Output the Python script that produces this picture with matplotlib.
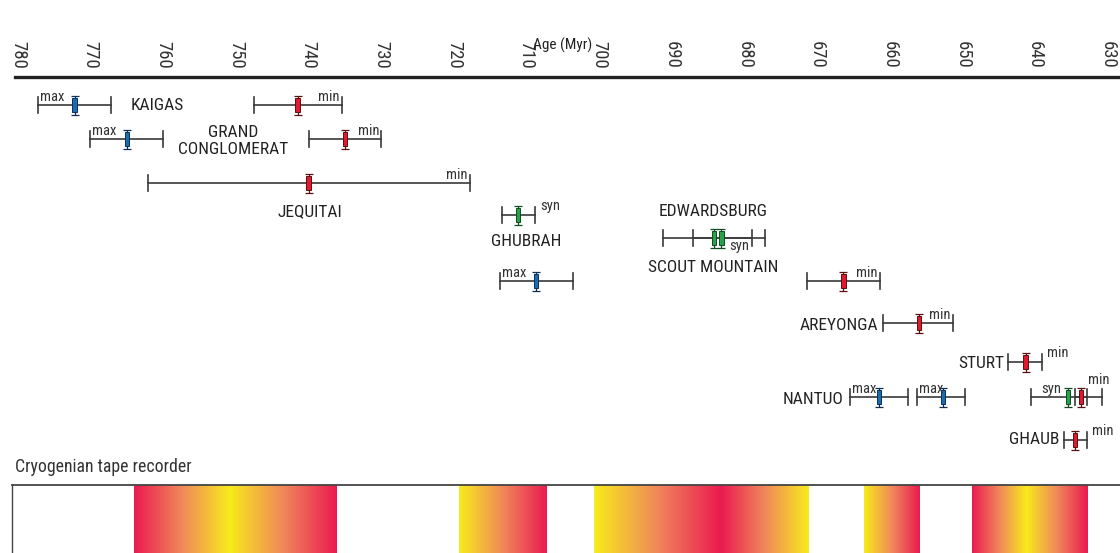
import numpy as np
import matplotlib
matplotlib.use("Agg")
import matplotlib.pyplot as plt
from matplotlib.patches import Rectangle
from matplotlib.colors import LinearSegmentedColormap

plt.rcParams["font.family"] = ["Roboto Condensed", "IBM Plex Sans Condensed",
                               "Liberation Sans Narrow", "DejaVu Sans"]

# age constraints (Myr): row, oldest, youngest, best estimate, type
row_y = [105, 105, 139, 139, 183, 215, 281, 238, 238, 281, 323, 362, 397, 397, 397, 397, 440]
age_old = [777.2, 747.5, 770.1, 739.9, 762.1, 713.4, 713.6, 691.2, 687.1, 671.4,
           660.9, 643.7, 665.5, 656.2, 640.6, 634.5, 636.0]
age_young = [767.2, 735.4, 760.0, 730.0, 717.8, 708.8, 703.6, 677.2, 679.0, 661.4,
             651.3, 639.0, 657.5, 649.6, 630.8, 632.9, 632.8]
age_best = [772.2, 741.5, 765.0, 735.0, 740.0, 711.2, 708.7, 684.2, 683.2, 666.4,
            656.0, 641.3, 661.5, 652.7, 635.5, 633.7, 634.5]
kind = ["max", "min", "max", "min", "min", "syn", "max", "syn", "syn", "min",
        "min", "min", "max", "max", "syn", "min", "min"]
# where the small tag goes
tag_pos = ["in", "in", "in", "in", "in", "sup", "in", "none", "below", "in",
           "in", "sup", "in", "in", "before", "high", "sup"]

# formation names: text, age, row, alignment
names = ["KAIGAS", "GRAND\nCONGLOMERAT", "JEQUITAI", "GHUBRAH", "EDWARDSBURG",
         "SCOUT MOUNTAIN", "AREYONGA", "STURT", "NANTUO", "GHAUB"]
name_age = [764.5, 750.4, 739.8, 710.1, 684.3, 684.3, 661.6, 644.2, 666.4, 636.6]
name_row = [105, 141, 212, 242, 212, 268, 325, 363, 400, 440]
name_ha = ["left", "center", "center", "center", "center", "center", "right", "right",
           "right", "right"]

# tape recorder bands: ages and colour value (0 = red, 1 = yellow)
tape_ages = [[764.1, 751.0, 736.2], [719.3, 707.2], [700.7, 683.3, 671.3],
             [663.6, 656.0], [648.7, 641.2, 632.7]]
tape_vals = [[0, 1, 0], [1, 0], [1, 0, 1], [1, 0], [0, 1, 0]]

ticks = np.arange(780, 629, -10)

colors = {"max": "#1b6db3", "min": "#e3172e", "syn": "#27a24a"}
edge = {"max": "#0d2f55", "min": "#5a1010", "syn": "#0f4a20"}
line_c = "#3a3a3a"

W, H = 1120, 553
fig = plt.figure(figsize=(W / 100, H / 100), dpi=100)

px = 7.265  # px per Myr
x0 = 18.0   # px position of 780
ax = fig.add_axes([15 / W, 1 - 455 / H, 1 - 15 / W, (455 - 77) / H])
ax.set_xlim(780 - (15 - x0) / px, 780 - (W - x0) / px)
ax.set_ylim(455, 77)
for s in ["left", "right", "bottom"]:
    ax.spines[s].set_visible(False)
ax.spines["top"].set_linewidth(2.4)
ax.spines["top"].set_color("#222222")
ax.xaxis.tick_top()
ax.set_xticks(ticks)
ax.set_xticklabels([str(t) for t in ticks], rotation=270, fontsize=13.5, color="#333333")
ax.tick_params(axis="x", length=0, pad=6)
ax.set_yticks([])

fig.text(563 / W, 1 - 45 / H, "Age (Myr)", ha="center", va="center", fontsize=11,
         color="#222222")

mw = 4.5 / px
for y, lo, hi, best, k, tp in zip(row_y, age_old, age_young, age_best, kind, tag_pos):
    ax.plot([lo, hi], [y, y], color=line_c, lw=1.2, zorder=1)
    ax.plot([lo, lo], [y - 8, y + 8], color=line_c, lw=1.2, zorder=1)
    ax.plot([hi, hi], [y - 8, y + 8], color=line_c, lw=1.2, zorder=1)
    ax.errorbar(best, y, yerr=9.5, fmt="none", ecolor=edge[k], elinewidth=0.9,
                capsize=2.6, capthick=0.9, zorder=2)
    ax.add_patch(Rectangle((best - mw / 2, y - 7), mw, 14, facecolor=colors[k],
                           edgecolor=edge[k], lw=0.7, zorder=3))
    if tp == "in":
        if k == "max":
            ax.annotate(k, (lo, y), xytext=(1.5, 0.5), textcoords="offset points",
                        ha="left", va="bottom", fontsize=10.5, color="#333333")
        else:
            ax.annotate(k, (hi, y), xytext=(-1.5, 0.5), textcoords="offset points",
                        ha="right", va="bottom", fontsize=10.5, color="#333333")
    elif tp == "sup":
        ax.annotate(k, (hi, y), xytext=(3.5, 1.5), textcoords="offset points",
                    ha="left", va="bottom", fontsize=10.5, color="#333333")
    elif tp == "below":
        ax.annotate(k, (best, y), xytext=(6, -0.5), textcoords="offset points",
                    ha="left", va="top", fontsize=10.5, color="#333333")
    elif tp == "before":
        ax.annotate(k, (best, y), xytext=(-5, 0.5), textcoords="offset points",
                    ha="right", va="bottom", fontsize=10.5, color="#333333")
    elif tp == "high":
        ax.annotate(k, (hi, y), xytext=(1, 7), textcoords="offset points",
                    ha="left", va="bottom", fontsize=10.5, color="#333333")

for t, a, r, ha in zip(names, name_age, name_row, name_ha):
    ax.text(a, r, t, ha=ha, va="center", fontsize=12.5, color="#222222",
            linespacing=1.2)

# tape recorder
fig.text(15 / W, 1 - 467 / H, "Cryogenian tape recorder", ha="left", va="center",
         fontsize=12.8, color="#333333")
tax = fig.add_axes([12 / W, -0.02, 1 - 12 / W, (553 - 485) / H + 0.02])
tax.set_xticks([])
tax.set_yticks([])
tax.spines["right"].set_visible(False)
tax.spines["bottom"].set_visible(False)
tax.spines["top"].set_linewidth(1.3)
tax.spines["left"].set_linewidth(1.0)
tax.spines["top"].set_color("#444444")
tax.spines["left"].set_color("#444444")

cmap = LinearSegmentedColormap.from_list("tape", ["#ea1b50", "#f0885a", "#f7eb1c"])
for ages, vals in zip(tape_ages, tape_vals):
    for i in range(len(ages) - 1):
        grad = np.linspace(vals[i], vals[i + 1], 200)[None, :]
        tax.imshow(grad, cmap=cmap, vmin=0, vmax=1, aspect="auto",
                   extent=[ages[i], ages[i + 1], 0, 1], interpolation="bilinear")
tax.set_xlim(780 - (12 - x0) / px, 780 - (W - x0) / px)
tax.set_ylim(0, 1)

fig.savefig("out.png", dpi=100)
